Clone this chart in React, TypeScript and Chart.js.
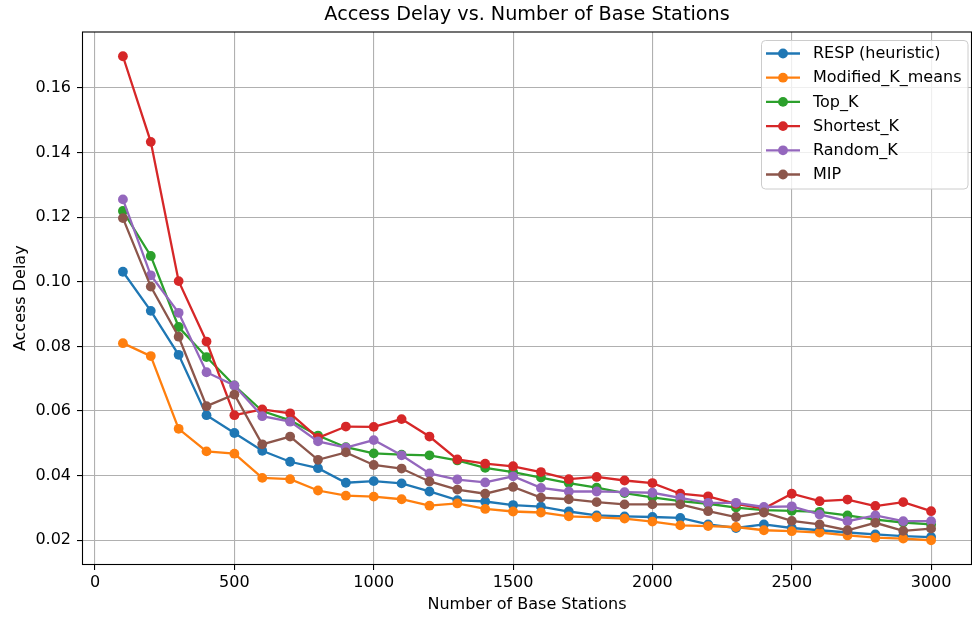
import React, { useEffect, useRef } from "react";
import { Chart, registerables } from "chart.js";

Chart.register(...registerables);

const baseStations = [100, 200, 300, 400, 500, 600, 700, 800, 900, 1000, 1100, 1200, 1300, 1400, 1500, 1600, 1700, 1800, 1900, 2000, 2100, 2200, 2300, 2400, 2500, 2600, 2700, 2800, 2900, 3000];

const respHeuristic = [0.1031, 0.0910, 0.0774, 0.0587, 0.0532, 0.0477, 0.0443, 0.0423, 0.0378, 0.0383, 0.0376, 0.0351, 0.0324, 0.0320, 0.0309, 0.0304, 0.0289, 0.0277, 0.0274, 0.0272, 0.0269, 0.0249, 0.0238, 0.0249, 0.0238, 0.0231, 0.0224, 0.0218, 0.0213, 0.0210];
const modifiedKMeans = [0.0810, 0.0770, 0.0545, 0.0475, 0.0468, 0.0393, 0.0389, 0.0354, 0.0338, 0.0335, 0.0327, 0.0307, 0.0314, 0.0297, 0.0289, 0.0286, 0.0274, 0.0271, 0.0267, 0.0258, 0.0246, 0.0244, 0.0241, 0.0231, 0.0228, 0.0224, 0.0215, 0.0208, 0.0205, 0.0200];
const topK = [0.1219, 0.1080, 0.0860, 0.0767, 0.0679, 0.0600, 0.0571, 0.0524, 0.0488, 0.0469, 0.0465, 0.0463, 0.0447, 0.0424, 0.0411, 0.0394, 0.0377, 0.0363, 0.0346, 0.0333, 0.0321, 0.0313, 0.0301, 0.0293, 0.0291, 0.0288, 0.0277, 0.0264, 0.0255, 0.0249];
const shortestK = [0.1698, 0.1433, 0.1002, 0.0815, 0.0587, 0.0605, 0.0593, 0.0517, 0.0552, 0.0551, 0.0575, 0.0521, 0.0450, 0.0437, 0.0429, 0.0411, 0.0389, 0.0396, 0.0385, 0.0377, 0.0344, 0.0336, 0.0313, 0.0298, 0.0344, 0.0321, 0.0326, 0.0306, 0.0318, 0.0290];
const randomK = [0.1255, 0.1020, 0.0904, 0.0720, 0.0679, 0.0584, 0.0567, 0.0506, 0.0487, 0.0510, 0.0463, 0.0407, 0.0388, 0.0379, 0.0398, 0.0362, 0.0351, 0.0351, 0.0349, 0.0347, 0.0331, 0.0316, 0.0316, 0.0303, 0.0305, 0.0280, 0.0259, 0.0277, 0.0259, 0.0259];
const mip = [0.1197, 0.0985, 0.0830, 0.0615, 0.0651, 0.0497, 0.0521, 0.0449, 0.0472, 0.0433, 0.0422, 0.0382, 0.0357, 0.0344, 0.0365, 0.0332, 0.0327, 0.0318, 0.0311, 0.0311, 0.0311, 0.0290, 0.0272, 0.0286, 0.0260, 0.0249, 0.0231, 0.0254, 0.0229, 0.0236];

const seriesNames = ["RESP (heuristic)", "Modified_K_means", "Top_K", "Shortest_K", "Random_K", "MIP"];
const seriesValues = [respHeuristic, modifiedKMeans, topK, shortestK, randomK, mip];
const seriesColors = ["#1f77b4", "#ff7f0e", "#2ca02c", "#d62728", "#9467bd", "#8c564b"];

const xTickValues = [0, 500, 1000, 1500, 2000, 2500, 3000];
const yTickValues = [0.02, 0.04, 0.06, 0.08, 0.10, 0.12, 0.14, 0.16];

const chartTitle = "Access Delay vs. Number of Base Stations";
const FONT = "'DejaVu Sans', sans-serif";
const GRID = "#b0b0b0";

const frameAndLegend = {
  id: "frameAndLegend",
  afterDraw(chart: any) {
    const { ctx, chartArea } = chart;
    ctx.save();
    ctx.strokeStyle = "#000";
    ctx.lineWidth = 1.1;
    ctx.strokeRect(chartArea.left, chartArea.top, chartArea.right - chartArea.left, chartArea.bottom - chartArea.top);
    // title centred over the plot area
    ctx.font = `19.2px ${FONT}`;
    ctx.fillStyle = "#000";
    ctx.textAlign = "center";
    ctx.textBaseline = "middle";
    ctx.fillText(chartTitle, (chartArea.left + chartArea.right) / 2, 15);
    // legend
    const bx = 761.5, by = 40.5, bw = 206.5, bh = 148.5, r = 4;
    ctx.beginPath();
    ctx.moveTo(bx + r, by);
    ctx.lineTo(bx + bw - r, by);
    ctx.quadraticCurveTo(bx + bw, by, bx + bw, by + r);
    ctx.lineTo(bx + bw, by + bh - r);
    ctx.quadraticCurveTo(bx + bw, by + bh, bx + bw - r, by + bh);
    ctx.lineTo(bx + r, by + bh);
    ctx.quadraticCurveTo(bx, by + bh, bx, by + bh - r);
    ctx.lineTo(bx, by + r);
    ctx.quadraticCurveTo(bx, by, bx + r, by);
    ctx.closePath();
    ctx.fillStyle = "rgba(255,255,255,0.8)";
    ctx.fill();
    ctx.strokeStyle = "#cccccc";
    ctx.lineWidth = 1;
    ctx.stroke();
    ctx.font = `16px ${FONT}`;
    ctx.textBaseline = "middle";
    ctx.textAlign = "left";
    seriesNames.forEach((name, i) => {
      const y = 53.5 + i * 24.2;
      ctx.strokeStyle = seriesColors[i];
      ctx.lineWidth = 2.3;
      ctx.beginPath();
      ctx.moveTo(766, y);
      ctx.lineTo(800, y);
      ctx.stroke();
      ctx.fillStyle = seriesColors[i];
      ctx.beginPath();
      ctx.arc(783, y, 4.9, 0, Math.PI * 2);
      ctx.fill();
      ctx.fillStyle = "#000";
      ctx.fillText(name, 813, y + 0.5);
    });
    ctx.restore();
  },
};

export default function App() {
  const canvasRef = useRef<HTMLCanvasElement | null>(null);

  useEffect(() => {
    const canvas = canvasRef.current;
    if (!canvas) return;
    const datasets = seriesNames.map((name, i) => ({
      label: name,
      data: baseStations.map((x, j) => ({ x, y: seriesValues[i][j] })),
      borderColor: seriesColors[i],
      backgroundColor: seriesColors[i],
      pointBackgroundColor: seriesColors[i],
      pointBorderWidth: 0,
      pointRadius: 4.9,
      borderWidth: 2.3,
      tension: 0,
      fill: false,
      order: seriesNames.length - 1 - i,
    }));

    const chart = new Chart(canvas, {
      type: "line",
      data: { datasets },
      plugins: [frameAndLegend],
      options: {
        responsive: false,
        animation: false,
        devicePixelRatio: 1,
        layout: { autoPadding: false, padding: { left: 0, right: 0.5, top: 32, bottom: 0 } },
        plugins: {
          legend: { display: false },
          tooltip: { enabled: false },
          title: { display: false },
        },
        scales: {
          x: {
            type: "linear",
            min: -45,
            max: 3145,
            afterBuildTicks: (scale: any) => {
              scale.ticks = xTickValues.map((v) => ({ value: v }));
            },
            afterFit: (scale: any) => {
              scale.height = 53.5;
              scale.paddingLeft = 0;
              scale.paddingRight = 0;
            },
            ticks: {
              color: "#000",
              font: { family: FONT, size: 16, lineHeight: 1.2 },
              padding: 3,
              maxRotation: 0,
              autoSkip: false,
              callback: (v: any) => String(v),
            },
            grid: {
              color: GRID,
              lineWidth: 1.1,
              tickColor: "#000",
              tickLength: 5.5,
              tickWidth: 1.1,
            },
            border: { display: false },
            title: {
              display: true,
              text: "Number of Base Stations",
              color: "#000",
              font: { family: FONT, size: 16, lineHeight: 1.2 },
              padding: { top: 0, bottom: 3.4 },
            },
          },
          y: {
            type: "linear",
            min: 0.0125,
            max: 0.1773,
            afterBuildTicks: (scale: any) => {
              scale.ticks = yTickValues.map((v) => ({ value: v }));
            },
            afterFit: (scale: any) => {
              scale.width = 82.5;
              scale.paddingTop = 0;
              scale.paddingBottom = 0;
            },
            ticks: {
              color: "#000",
              font: { family: FONT, size: 16, lineHeight: 1.2 },
              padding: 6,
              autoSkip: false,
              callback: (v: any) => Number(v).toFixed(2),
            },
            grid: {
              color: GRID,
              lineWidth: 1.1,
              tickColor: "#000",
              tickLength: 5.5,
              tickWidth: 1.1,
            },
            border: { display: false },
            title: {
              display: true,
              text: "Access Delay",
              color: "#000",
              font: { family: FONT, size: 16, lineHeight: 1.2 },
              padding: { top: 11, bottom: 0 },
            },
          },
        },
      },
    } as any);

    return () => chart.destroy();
  }, []);

  return (
    <div style={{ position: "fixed", left: 0, top: 0, width: 972, height: 618, background: "#fff" }}>
      <canvas ref={canvasRef} width={972} height={618} />
    </div>
  );
}
